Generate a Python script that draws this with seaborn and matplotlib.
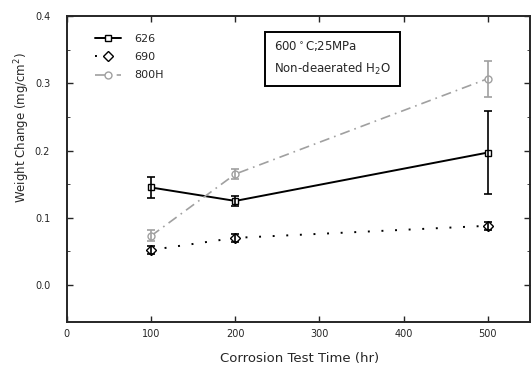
import numpy as np
import pandas as pd
import seaborn as sns
import matplotlib.pyplot as plt

# --- data ---
times = [100, 200, 500]
w626 = [0.145, 0.125, 0.197]
e626 = [0.016, 0.008, 0.062]
w690 = [0.052, 0.070, 0.088]
e690 = [0.006, 0.006, 0.006]
w800h = [0.073, 0.165, 0.307]
e800h = [0.008, 0.008, 0.027]

sns.set_style("ticks")
plt.rcParams['font.family'] = ['DejaVu Sans']

fig = plt.figure(figsize=(5.31, 3.76), dpi=100)
ax = fig.add_axes([0.126, 0.144, 0.872, 0.813])

series = [
    ('626', w626, e626, 'black', '-', 's', 1.4),
    ('690', w690, e690, 'black', (0, (1, 6)), 'D', 1.4),
    ('800H', w800h, e800h, '#a0a0a0', (0, (6, 3, 1, 3)), 'o', 1.2),
]

for name, vals, errs, col, ls, mk, lw in series:
    df = pd.DataFrame({'Time': times, 'Weight': vals})
    sns.lineplot(data=df, x='Time', y='Weight', ax=ax, color=col, linestyle=ls,
                 linewidth=lw, marker=mk, markersize=5, markerfacecolor='white',
                 markeredgecolor=col, markeredgewidth=1, label=name)
    ax.errorbar(times, vals, yerr=errs, fmt='none', ecolor=col, elinewidth=1.2,
                capsize=3, capthick=1.2)

ax.set_xlim(0, 550)
ax.set_ylim(-0.055, 0.4)
ax.set_xticks([0, 100, 200, 300, 400, 500])
ax.set_yticks([0.0, 0.1, 0.2, 0.3, 0.4])
ax.set_yticklabels(['0.0', '0.1', '0.2', '0.3', '0.4'])
ax.set_yticks(np.arange(0.0, 0.41, 0.05), minor=True)
ax.tick_params(axis='x', direction='in', top=True, labelsize=7, width=1, length=4, pad=5)
ax.tick_params(axis='y', direction='in', right=True, labelsize=7, width=1, length=4, pad=12)
ax.tick_params(which='minor', direction='in', right=True, length=2)
for sp in ax.spines.values():
    sp.set_linewidth(1.4)

ax.set_xlabel('Corrosion Test Time (hr)', fontsize=9.5)
ax.xaxis.set_label_coords(0.503, -0.10)
ax.set_ylabel('Weight Change (mg/cm$^2$)', fontsize=8.5)
ax.yaxis.set_label_coords(-0.075, 0.634)

ax.legend(loc='upper left', bbox_to_anchor=(0.04, 0.975), frameon=False,
          fontsize=8, handlelength=2.3, handletextpad=1.2, labelspacing=0.75)

ax.text(246, 0.337, '600$^\\circ$C;25MPa\nNon-deaerated H$_2$O', fontsize=8.5,
        va='center', ha='left', linespacing=1.6,
        bbox=dict(boxstyle='square,pad=0.75', facecolor='white', edgecolor='black', linewidth=1.4))

fig.savefig('out.png', dpi=100)
